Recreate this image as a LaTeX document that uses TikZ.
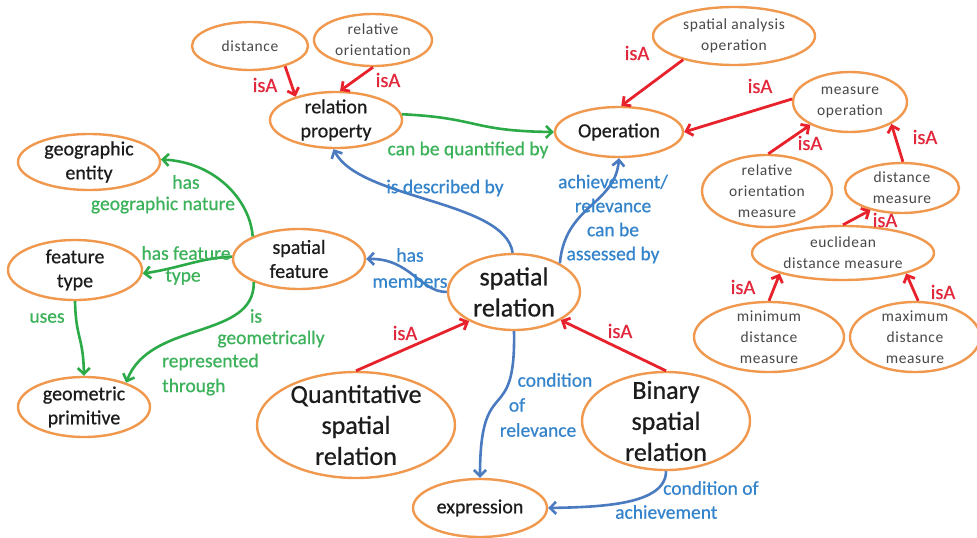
\documentclass[tikz,border=0pt]{standalone}
\usepackage{fontspec}
\setmainfont{Carlito}
\newfontfamily\heavy[FakeBold=0.6]{Carlito}
\newfontfamily\spaced[LetterSpace=4]{Carlito}
\usetikzlibrary{shapes.geometric,arrows.meta}
\definecolor{corange}{RGB}{240,152,78}
\definecolor{cred}{RGB}{232,34,44}
\definecolor{credtxt}{RGB}{226,40,60}
\definecolor{cgreen}{RGB}{44,170,72}
\definecolor{cgreentxt}{RGB}{60,178,90}
\definecolor{cblue}{RGB}{74,122,192}
\definecolor{cbluetxt}{RGB}{52,132,204}
\definecolor{txtgray}{RGB}{72,72,72}
\definecolor{txtdark}{RGB}{28,28,28}
\tikzset{
  concept/.style={ellipse, draw=corange, line width=2.4pt, inner sep=0pt},
  sml/.style={font=\spaced\fontsize{15.5}{21}\selectfont, text=txtgray, align=center, inner sep=0pt},
  med/.style={font=\heavy\fontsize{20}{24}\selectfont, text=txtdark, align=center, inner sep=0pt},
  big/.style={font=\heavy\fontsize{26}{31}\selectfont, text=txtdark, align=center, inner sep=0pt},
  tip/.style={-{Straight Barb[length=6pt,width=12pt]}},
  isa/.style={tip, draw=cred, line width=2.8pt},
  grn/.style={tip, draw=cgreen, line width=2.6pt},
  blu/.style={tip, draw=cblue, line width=2.6pt},
  isalbl/.style={font=\heavy\fontsize{20.5}{24}\selectfont, text=credtxt, inner sep=0pt},
  glbl/.style={font=\heavy\fontsize{19.5}{23}\selectfont, text=cgreentxt, inner sep=0pt, align=center},
  blbl/.style={font=\heavy\fontsize{19.5}{24}\selectfont, text=cbluetxt, inner sep=0pt, align=center}
}
\newcommand\cpt[7]{%
  \node[concept, minimum width=#4pt, minimum height=#5pt] (#1) at (#2,#3) {};
  \node[#6] at (#1) {#7};}
\begin{document}
\begin{tikzpicture}[x=1pt,y=-1pt]
\useasboundingbox[fill=white] (0,0) rectangle (977,538);
% concepts
\cpt{dist}{250}{46}{116}{48}{sml}{distance}
\cpt{relor}{373}{40}{118}{52}{sml}{relative\\orientation}
\cpt{relprop}{336}{120}{132}{56}{med}{relation\\property}
\cpt{sao}{734}{36}{162}{58}{sml}{spatial analysis\\operation}
\cpt{op}{619}{132}{128}{50}{med}{Operation}
\cpt{mo}{850}{102}{114}{60}{sml}{measure\\operation}
\cpt{rom}{767}{191}{130}{72}{sml}{relative\\orientation\\measure}
\cpt{dm}{902}{188}{114}{50}{sml}{distance\\measure}
\cpt{eu}{843}{253}{182}{54}{sml}{euclidean\\distance measure}
\cpt{mind}{769}{337}{150}{70}{sml}{minimum\\distance\\measure}
\cpt{maxd}{915}{337}{130}{70}{sml}{maximum\\distance\\measure}
\cpt{ge}{89}{162}{142}{56}{med}{geographic\\entity}
\cpt{sf}{299}{259}{132}{60}{med}{spatial\\feature}
\cpt{ft}{75}{270}{134}{60}{med}{feature\\type}
\cpt{gp}{84}{407}{132}{60}{med}{geometric\\primitive}
\cpt{sr}{514}{292}{132}{76}{big}{spatial\\relation}
\cpt{qsr}{356}{425}{198}{106}{big}{Quantitative\\spatial\\relation}
\cpt{bsr}{666}{421}{168}{98}{big}{Binary\\spatial\\relation}
\cpt{ex}{480}{508}{134}{58}{med}{expression}
% isA edges
\draw[isa] (dist.-30) -- (relprop.150);
\node[isalbl] at (265,85) {isA};
\draw[isa] (relor.-90) -- (relprop.82);
\node[isalbl] at (388,80) {isA};
\draw[isa] (sao.-155) -- (op.85);
\node[isalbl] at (637,53) {isA};
\draw[isa] (mo.177) -- (op.0);
\node[isalbl] at (760,86) {isA};
\draw[isa] (rom.88) -- (mo.-150);
\node[isalbl] at (810,143) {isA};
\draw[isa] (dm.88) -- (mo.-28);
\node[isalbl] at (925,137) {isA};
\draw[isa] (eu.90) -- (dm.-145);
\node[isalbl] at (885,220) {isA};
\draw[isa] (mind.90) -- (eu.-162);
\node[isalbl] at (743,287) {isA};
\draw[isa] (maxd.85) -- (eu.-18);
\node[isalbl] at (943,292) {isA};
\draw[isa] (qsr.90) -- (sr.-147);
\node[isalbl] at (405,333) {isA};
\draw[isa] (bsr.90) -- (sr.-31);
\node[isalbl] at (620,331) {isA};
% green edges
\draw[grn] (relprop.5) .. controls (480,118) and (470,131) .. (op.180);
\node[glbl] at (468,150) {can be quantified by};
\draw[grn] (sf.154) .. controls (250,200) and (215,162) .. (ge.2);
\node[glbl] at (186,182) {has};
\node[glbl] at (163,205) {geographic nature};
\draw[grn] (sf.178) .. controls (200,258) and (180,268) .. (ft.-3);
\node[glbl] at (186,253) {has feature};
\node[glbl] at (183,277) {type};
\draw[grn] (sf.-153) .. controls (255,340) and (150,320) .. (gp.30);
\node[glbl] at (256,316) {is};
\node[glbl] at (271,339) {geometrically};
\node[glbl, anchor=west] at (162,362) {represented};
\node[glbl, anchor=west] at (162,387) {through};
\draw[grn] (ft.-90) .. controls (76,340) and (83,335) .. (gp.90);
\node[glbl] at (47,318) {uses};
% blue edges
\draw[blu] (sr.180) .. controls (420,292) and (410,258) .. (sf.0);
\node[blbl] at (410,255) {has};
\node[blbl] at (410,281) {members};
\draw[blu] (sr.92) .. controls (505,200) and (360,200) .. (relprop.-95);
\node[blbl] at (445,188) {is described by};
\draw[blu] (sr.32) .. controls (565,205) and (615,205) .. (op.-90);
\node[blbl] at (613,219) {achievement/\\relevance\\can be\\assessed by};
\draw[blu] (sr.-90) .. controls (516,430) and (480,370) .. (ex.90);
\node[blbl] at (555,380) {condition};
\node[blbl] at (517,405) {of};
\node[blbl] at (538,430) {relevance};
\draw[blu] (bsr.-90) .. controls (666,505) and (600,507) .. (ex.0);
\node[blbl, anchor=west] at (663,488) {condition of};
\node[blbl, anchor=west] at (615,512) {achievement};
\end{tikzpicture}
\end{document}
